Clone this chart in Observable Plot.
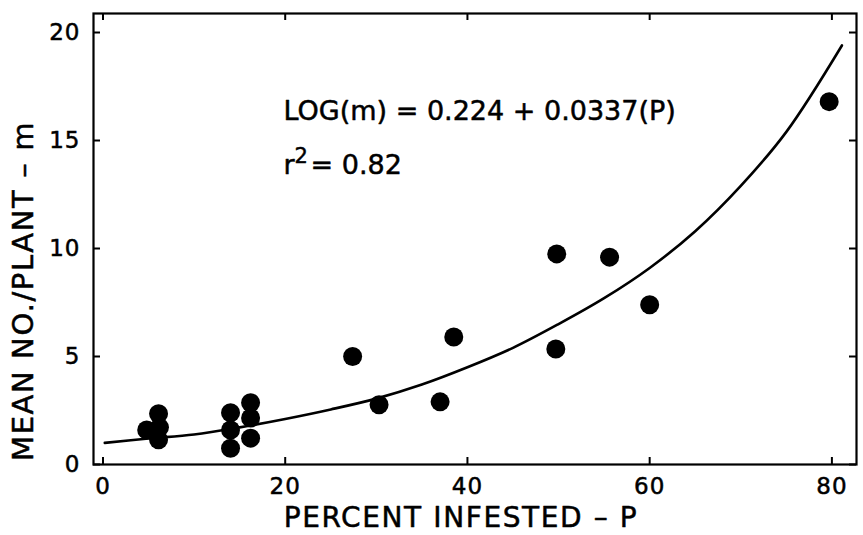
<!DOCTYPE html>
<html>
<head>
<meta charset="utf-8">
<script src="https://cdn.jsdelivr.net/npm/d3@7"></script>
<script src="https://cdn.jsdelivr.net/npm/@observablehq/plot@0.6"></script>
<style>
  html, body { margin: 0; padding: 0; background: #fff; }
</style>
</head>
<body>
<div id="chart"></div>
<script>
// Observed points: percent infested (P) and mean number per plant (m)
const pointP = [4.8, 6.1, 6.2, 6.1, 14.0, 14.0, 14.0, 16.2, 16.2, 16.2, 27.4, 30.3, 37.0, 38.5, 49.7, 49.8, 55.6, 60.0, 79.7];
const pointM = [1.6, 2.35, 1.72, 1.15, 2.4, 1.6, 0.75, 2.86, 2.15, 1.22, 5.0, 2.77, 2.9, 5.9, 5.35, 9.75, 9.6, 7.4, 16.8];

// Fitted curve
const curveP = [0.2, 5, 10, 15, 20, 25, 30, 35, 40, 45, 50, 55, 60, 65, 70, 75, 81.1];
const curveM = [1.0, 1.2, 1.39, 1.72, 2.11, 2.55, 3.05, 3.7, 4.5, 5.4, 6.5, 7.7, 9.1, 10.8, 12.9, 15.4, 19.4];

const xTicks = [0, 20, 40, 60, 80];
const yTicks = [0, 5, 10, 15, 20];

const xLabel = "PERCENT INFESTED – P";
const yLabel = "MEAN NO./PLANT – m";
const eqText = "LOG(m) = 0.224 + 0.0337(P)";
const r2Base = "r";
const r2Sup = "2";
const r2Rest = "= 0.82";

const points = pointP.map((p, i) => ({P: p, m: pointM[i]}));
const curve = curveP.map((p, i) => ({P: p, m: curveM[i]}));

const W = 863, H = 535, mL = 93, mR = 7, mT = 13, mB = 71;
const plotW = W - mL - mR, plotH = H - mT - mB;
const tick = 7;
const font = "'DejaVu Sans', sans-serif";
const heavy = {stroke: "#000", strokeWidth: 0.5};

const chart = Plot.plot({
  width: W,
  height: H,
  marginLeft: mL,
  marginRight: mR,
  marginTop: mT,
  marginBottom: mB,
  style: {fontFamily: font, background: "#fff", color: "#000", overflow: "visible"},
  x: {domain: [-1.04, 82.7]},
  y: {domain: [0, 20.88]},
  marks: [
    Plot.axisX({ticks: xTicks, tickSize: 0, tickPadding: 13, fontSize: 23, label: null}),
    Plot.axisY({ticks: yTicks, tickSize: 0, tickPadding: 13, fontSize: 23, label: null}),
    // inward ticks on all four sides
    Plot.tickX(xTicks, {x: d => d, insetTop: plotH - tick, stroke: "#000", strokeWidth: 2}),
    Plot.tickX(xTicks, {x: d => d, insetBottom: plotH - tick, stroke: "#000", strokeWidth: 2}),
    Plot.tickY(yTicks, {y: d => d, insetRight: plotW - tick, stroke: "#000", strokeWidth: 2}),
    Plot.tickY(yTicks, {y: d => d, insetLeft: plotW - tick, stroke: "#000", strokeWidth: 2}),
    Plot.frame({stroke: "#000", strokeWidth: 2.2}),
    Plot.line(curve, {x: "P", y: "m", stroke: "#000", strokeWidth: 2.6, curve: "catmull-rom"}),
    Plot.dot(points, {x: "P", y: "m", r: 9.5, fill: "#000", stroke: "none"}),
    // equation annotation
    Plot.text([eqText], {frameAnchor: "top-left", dx: 190, dy: 106, textAnchor: "start", lineAnchor: "bottom", fontSize: 27, fill: "#000", ...heavy}),
    Plot.text([r2Base], {frameAnchor: "top-left", dx: 190, dy: 160, textAnchor: "start", lineAnchor: "bottom", fontSize: 27, fill: "#000", ...heavy}),
    Plot.text([r2Sup], {frameAnchor: "top-left", dx: 201, dy: 149, textAnchor: "start", lineAnchor: "bottom", fontSize: 21, fill: "#000", ...heavy}),
    Plot.text([r2Rest], {frameAnchor: "top-left", dx: 217, dy: 160, textAnchor: "start", lineAnchor: "bottom", fontSize: 27, fill: "#000", ...heavy}),
    // axis titles
    Plot.text([xLabel], {frameAnchor: "bottom", dx: -14, dy: 62, textAnchor: "middle", lineAnchor: "bottom", fontSize: 28, fill: "#000", ...heavy}),
    Plot.text([yLabel], {frameAnchor: "left", dx: -61, dy: 52, textAnchor: "middle", lineAnchor: "bottom", rotate: -90, fontSize: 29, fill: "#000", ...heavy})
  ]
});

document.getElementById("chart").appendChild(chart);

// wide letter spacing and heavier strokes as in the original lettering
d3.select(chart).selectAll("text").each(function() {
  const t = this.textContent;
  if (t === xLabel) this.style.letterSpacing = "1.6px";
  else if (t === yLabel) this.style.letterSpacing = "1.6px";
  else if (xTicks.map(String).includes(t) || yTicks.map(String).includes(t)) {
    this.style.letterSpacing = "1px";
    this.style.stroke = "#000";
    this.style.strokeWidth = "0.5px";
  }
});
</script>
</body>
</html>
